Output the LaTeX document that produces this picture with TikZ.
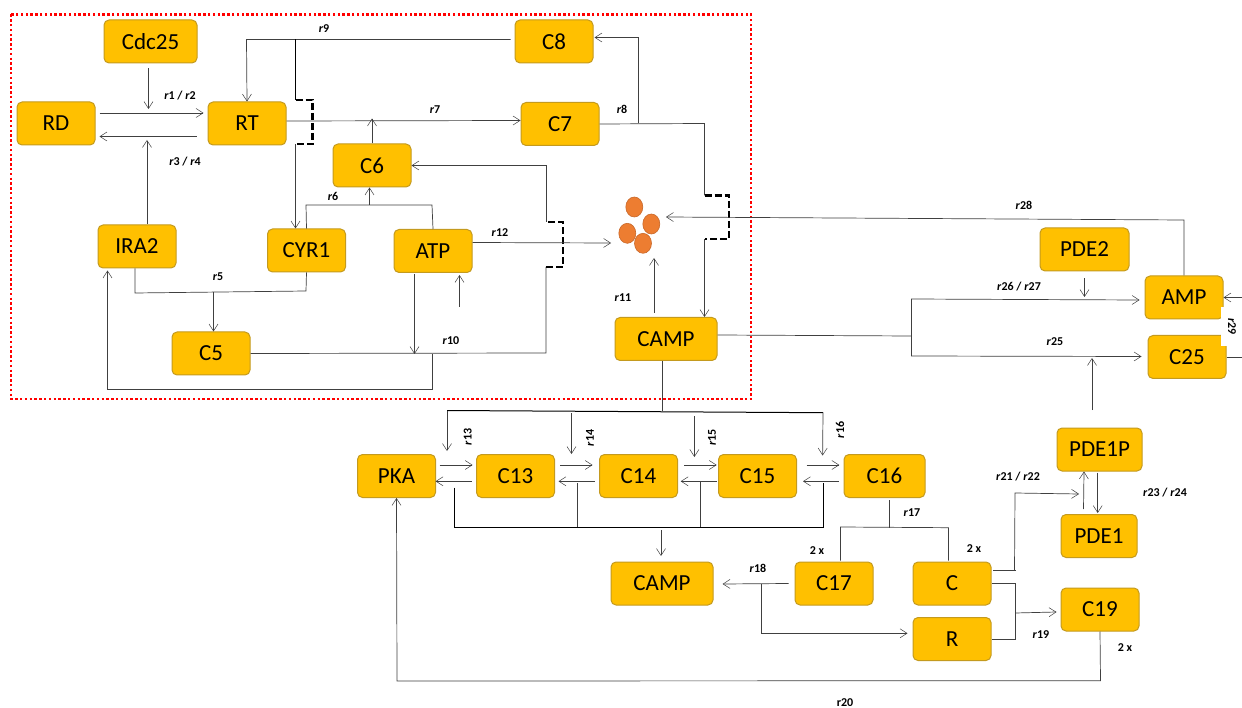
\documentclass[tikz,border=0pt]{standalone}
\usepackage{fontspec}
\setmainfont{Carlito}
\usetikzlibrary{arrows.meta,shapes.geometric}
\definecolor{boxfill}{HTML}{FFC000}
\definecolor{boxline}{HTML}{C49A1E}
\definecolor{linkgray}{HTML}{404040}
\definecolor{cluster}{HTML}{ED7D31}
\definecolor{clusterline}{HTML}{C8682A}
\tikzset{
  species/.style={draw=boxline,fill=boxfill,line width=1pt,rounded corners=5pt,minimum width=78pt,minimum height=43pt,inner sep=0pt,font=\fontsize{23}{25}\selectfont,text=black},
  rate/.style={inner sep=0pt,font=\fontsize{12}{14}\selectfont\bfseries,text=black},
  rateup/.style={rate,rotate=90},
  link/.style={draw=linkgray,line width=.7pt},
  heavy/.style={draw=black,line width=1pt},
  flow/.style={link,-{Straight Barb[length=7pt,width=9pt,line width=.5pt]}},
  gate/.style={draw=black,line width=2.3pt,dash pattern=on 7pt off 3pt},
  mol/.style={ellipse,draw=clusterline,fill=cluster,line width=.6pt,minimum width=17pt,minimum height=20pt,inner sep=0pt},
  region/.style={draw=red,line width=2.2pt,dash pattern=on 2.4pt off 2.4pt}
}
\newcommand{\rr}[1]{\textit{r}#1}
\begin{document}
\begin{tikzpicture}[x=1pt,y=-1pt]
\useasboundingbox (0,0) rectangle (1242,708);
\fill[white] (0,0) rectangle (1242,708);
\draw[region] (11,14.5) rectangle (751,399);

% junctions and free ends
\foreach \n/\x/\y in {
 cdcend/148.5/109, iraend/147/140,
 r9a/246.5/39.5, r9b/295.5/39.5, r9c/295.5/100, r9d/312.5/100, r9e/312.5/144, r9f/295.5/144,
 r6a/306/205, r6b/432/205, r6c/369.5/205, r5a/135/293, r5b/306/291, r5c/213.5/292,
 r10a/546/353, r10b/546/267, r10c/563/267, r10d/563/222, r10e/546/222, r10f/546/165.5,
 atpa/414.5/354, atpb/432.5/354, atpc/432.5/389, atpd/107.5/389, atpe/459.5/307,
 r12end/611/243,
 r8a/704.5/123.5, r8b/704.5/195.5, r8c/729/195.5, r8d/729/239, r8e/704.5/239, r8f/638/123.5, r8g/638/37.5,
 r11end/654/258,
 r28a/1184/220, r28end/666/217,
 fa/911/336, fb/911/299, fc/911/356, pde2end/1084.5/297, pdepa/1092/410, pdepb/1092/358,
 edgea/1242/297.5, edgeb/1242/357,
 cb/662/411, ca/447/410.5, cc/823/412.7, cd/571.5/413, ce/694.4/416,
 ca2/447/451, cd2/571.5/454, ce2/694.4/457, cc2/822.6/455.5,
 ba/454.8/487.5, bb/454.8/527.3, bc/577.8/483, bd/577.8/527.3, be/700.4/482, bf/700.4/527.3, bg/823/483, bh/823/527.3, bi/661/530, bj/661/556,
 s17a/889/527.5, s17b/840.5/527, s17c/948.5/527.7,
 r18end/722.6/584, r18a/761.8/584, r18b/761.8/633.3,
 r21a/993/570, r21b/1016/570, r21c/1014.5/570, r21d/1015/493, r21e/1079/494,
 r19a/1015/583.5, r19b/1015/639, r19c/1015/613, r20a/1100.5/680.7, r20b/397/681,
 bot1/439.6/465, bot2/472.6/465, bot3/560/465, bot4/592.6/465, bot5/684/465, bot6/716.7/465, bot7/806.7/465, bot8/839.3/465,
 ret1/471.5/481.3, ret2/435.6/481.3, ret3/594.8/481.3, ret4/558.5/481.3, ret5/717/481.3, ret6/680.7/481.3, ret7/838.5/481.3, ret8/803/481.3
}{\coordinate (\n) at (\x,\y);}

% species
\foreach \n/\t/\x/\y/\w in {
 Cdc25/Cdc25/150.5/41.5/93, RD/RD/56/123.5/78, RT/RT/247/123.5/78, C8/C8/554/41.5/78, C7/C7/560/124/78,
 C6/C6/372/165.5/78, IRA2/IRA2/137/246.5/78, CYR1/CYR1/306.5/250.5/78, ATP/ATP/433/251/78, C5/C5/211/353.5/78,
 CAMPa/CAMP/666/339/102, PDE2/PDE2/1084.5/249.5/89, AMP/AMP/1184/297.5/78, C25/C25/1187/357/78,
 PKA/PKA/396.5/476/78, C13/C13/515.5/476/78, C14/C14/638.5/476/78, C15/C15/757.5/476/78, C16/C16/884.5/476/81,
 CAMPb/CAMP/662/583.5/102, C17/C17/834/583.5/78, Cc/C/952/583.5/78, Rr/R/952/639/78,
 PDE1P/PDE1P/1099.5/449.5/85, PDE1/PDE1/1099/536/76, C19/C19/1100/609.5/78
}{\node[species,minimum width=\w pt] (\n) at (\x,\y) {\t};}

% cluster
\node[mol] (m1) at (634.3,207) {};
\node[mol] (m2) at (651.3,224) {};
\node[mol] (m3) at (627.3,233.3) {};
\node[mol] (m4) at (643,243.3) {};

% upper module
\draw[flow] ([xshift=4,yshift=10.5]RD.east) -- ([xshift=-4,yshift=10.5]RT.west);
\draw[flow] ([xshift=-11,yshift=-13]RT.west) -- ([xshift=4,yshift=-13]RD.east);
\draw[flow] ([xshift=-2,yshift=-5]Cdc25.south) -- (cdcend);
\draw[flow] ([xshift=10]IRA2.north) -- (iraend);
\draw[flow] ([xshift=-4,yshift=2]C8.west) -- (r9b) -- (r9a) -- (RT.north);
\draw[heavy] (r9b) -- (r9c);
\draw[gate] (r9c) -- (r9d) -- (r9e) -- (r9f);
\draw[flow] (r9f) -- ([xshift=-11]CYR1.north);
\draw[flow] ([yshift=2.5]RT.east) -- ([yshift=3.5]C7.west);
\draw[flow] (C6.north) -- ++(0,-25);
\draw[link] (CYR1.north) -- (r6a) -- (r6b) -- (ATP.north);
\draw[flow] (r6c) -- ([xshift=-2.5]C6.south);
\draw[link] ([xshift=-2]IRA2.south) -- (r5a) -- (r5b) -- (CYR1.south);
\draw[flow] (r5c) -- ([xshift=2.5]C5.north);
\draw[link] (C5.east) -- (r10a) -- (r10b);
\draw[gate] (r10b) -- (r10c) -- (r10d) -- (r10e);
\draw[flow] (r10e) -- (r10f) -- (C6.east);
\draw[flow] ([xshift=-18.5,yshift=-1]ATP.south) -- (atpa);
\draw[flow] (atpb) -- (atpc) -- (atpd) -- ([xshift=-29.5,yshift=-2]IRA2.south);
\draw[flow] (atpe) -- ([xshift=26.5,yshift=-2]ATP.south);
\draw[flow] ([yshift=8.5]ATP.east) -- (r12end);
\draw[link] (C7.east) -- (r8a) -- (r8b);
\draw[gate] (r8b) -- (r8c) -- (r8d) -- (r8e);
\draw[flow] (r8e) -- ([xshift=38.5]CAMPa.north);
\draw[flow] (r8f) -- (r8g) -- ([xshift=1,yshift=4]C8.east);
\draw[flow] ([xshift=-12,yshift=4]CAMPa.north) -- (r11end);
\draw[flow] (AMP.north) -- (r28a) -- (r28end);

% right branch
\draw[link] ([yshift=4]CAMPa.east) -- (fa);
\draw[link] (fb) -- (fc);
\draw[flow] (fb) -- ([xshift=-5,yshift=-2.5]AMP.west);
\draw[flow] (fc) -- ([xshift=-6,yshift=.5]C25.west);
\draw[flow] ([yshift=-7]PDE2.south) -- (pde2end);
\draw[flow] (pdepa) -- (pdepb);
\draw[flow] (edgea) -- (AMP.east);
\draw[link] (C25.east) -- (edgeb);

% lower module
\draw[link] ([xshift=-4]CAMPa.south) -- (cb);
\draw[heavy] (ca) -- (cc);
\draw[flow] (ca) -- (ca2);
\draw[flow] (cd) -- (cd2);
\draw[flow] (ce) -- (ce2);
\draw[flow] (cc) -- (cc2);
\draw[flow] (bot1) -- (bot2);
\draw[flow] (bot3) -- (bot4);
\draw[flow] (bot5) -- (bot6);
\draw[flow] (bot7) -- (bot8);
\draw[flow] (ret1) -- (ret2);
\draw[flow] (ret3) -- (ret4);
\draw[flow] (ret5) -- (ret6);
\draw[flow] (ret7) -- (ret8);
\draw[heavy] (ba) -- (bb) -- (bh) -- (bg);
\draw[link] (bc) -- (bd);
\draw[link] (be) -- (bf);
\draw[flow] (bi) -- (bj);
\draw[link] ([xshift=4.5,yshift=-2]C16.south) -- (s17a);
\draw[link] ([xshift=6.5,yshift=1]C17.north) -- (s17b) -- (s17c) -- ([xshift=-3.5,yshift=1]Cc.north);
\draw[flow] ([xshift=-6]C17.west) -- (r18end);
\draw[flow] (r18a) -- (r18b) -- ([xshift=-5,yshift=5.7]Rr.west);
\draw[link] (r21a) -- (r21b);
\draw[flow] (r21c) -- (r21d) -- (r21e);
\draw[flow] ([xshift=-15.5,yshift=5]PDE1.north) -- ([xshift=-15.5]PDE1P.south);
\draw[flow] ([xshift=-1.8,yshift=-1]PDE1P.south) -- ([xshift=-1.3,yshift=1]PDE1.north);
\draw[link] (Cc.east) -- (r19a) -- (r19b) -- (Rr.east);
\draw[flow] (r19c) -- ([xshift=-4,yshift=-2.5]C19.west);
\draw[flow] (C19.south) -- (r20a) -- (r20b) -- (PKA.south);

% rate labels
\node[rate] (l1) at (180,96) {\rr{1} / \rr{2}};
\node[rate] (l2) at (185,162) {\rr{3} / \rr{4}};
\node[rate] (l3) at (324,29) {\rr{9}};
\node[rate] (l4) at (435,110) {\rr{7}};
\node[rate] (l5) at (333,196) {\rr{6}};
\node[rate] (l6) at (218,277) {\rr{5}};
\node[rate] (l7) at (622,109) {\rr{8}};
\node[rate] (l8) at (500,233) {\rr{12}};
\node[rate] (l9) at (623,298) {\rr{11}};
\node[rate] (l10) at (451,341) {\rr{10}};
\node[rate] (l11) at (1024,205) {\rr{28}};
\node[rate] (l12) at (1019,287) {\rr{26} / \rr{27}};
\node[rate] (l13) at (1055,342) {\rr{25}};
\node[rate,rotate=-90,fill=white,minimum width=39pt,minimum height=22pt] (l14) at (1232,326.5) {\rr{29}};
\node[rateup] (l15) at (467.8,437) {\rr{13}};
\node[rateup] (l16) at (590,438) {\rr{14}};
\node[rateup] (l17) at (712,437.7) {\rr{15}};
\node[rateup] (l18) at (840,430) {\rr{16}};
\node[rate] (l19) at (912,513) {\rr{17}};
\node[rate] (l20) at (817,551) {2 x};
\node[rate] (l21) at (974,549) {2 x};
\node[rate] (l22) at (758,568) {\rr{18}};
\node[rate] (l23) at (1041,635) {\rr{19}};
\node[rate] (l24) at (845,703) {r20};
\node[rate] (l25) at (1018,476.7) {\rr{21} / \rr{22}};
\node[rate] (l26) at (1165,493) {\rr{23} / \rr{24}};
\node[rate] (l27) at (1125,648) {2 x};
\end{tikzpicture}
\end{document}
